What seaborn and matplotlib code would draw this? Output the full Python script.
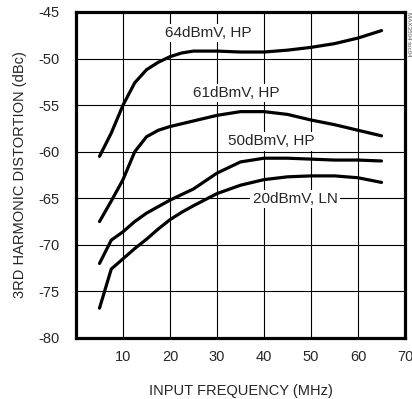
import matplotlib
matplotlib.use('Agg')
import matplotlib.pyplot as plt
import seaborn as sns
import pandas as pd

freq = [5, 7.5, 10, 12.5, 15, 17.5, 20, 22.5, 25, 30, 35, 40, 45, 50, 55, 60, 65]
hd3_64hp = [-60.5, -58.0, -55.0, -52.6, -51.2, -50.4, -49.8, -49.4, -49.2, -49.2, -49.3, -49.3, -49.1, -48.8, -48.4, -47.8, -47.0]
hd3_61hp = [-67.5, -65.3, -63.0, -60.0, -58.4, -57.7, -57.3, -57.0, -56.7, -56.1, -55.7, -55.7, -56.0, -56.6, -57.1, -57.7, -58.3]
hd3_50hp = [-72.0, -69.5, -68.6, -67.5, -66.6, -65.9, -65.2, -64.6, -64.0, -62.3, -61.1, -60.7, -60.7, -60.8, -60.9, -60.9, -61.0]
hd3_20ln = [-76.8, -72.6, -71.5, -70.4, -69.4, -68.3, -67.3, -66.5, -65.8, -64.5, -63.6, -63.0, -62.7, -62.6, -62.6, -62.8, -63.3]

series = ['64dBmV, HP', '61dBmV, HP', '50dBmV, HP', '20dBmV, LN']
label_x = [28.1, 34.2, 41.6, 46.6]
label_y = [-47.25, -53.7, -58.9, -65.1]

xticks = [10, 20, 30, 40, 50, 60, 70]
yticks = [-45, -50, -55, -60, -65, -70, -75, -80]

rows = []
for name, vals in zip(series, [hd3_64hp, hd3_61hp, hd3_50hp, hd3_20ln]):
    for f, v in zip(freq, vals):
        rows.append({'freq': f, 'hd3': v, 'curve': name})
df = pd.DataFrame(rows)

sns.set_style('white')
plt.rcParams['font.family'] = ['Liberation Sans', 'DejaVu Sans']

fig = plt.figure(figsize=(4.12, 3.99), dpi=100)
ax = fig.add_axes([0.1845, 0.153, 0.7985, 0.817])

sns.lineplot(data=df, x='freq', y='hd3', hue='curve', palette={s: 'black' for s in series},
             linewidth=2.3, legend=False, ax=ax, sort=False)

ax.set_xlim(0, 70)
ax.set_ylim(-80, -45)
ax.set_xticks(xticks)
ax.set_yticks(yticks)
ax.set_xticklabels([str(t) for t in xticks], fontsize=10.5)
ax.set_yticklabels([str(t) for t in yticks], fontsize=10.5)
ax.tick_params(axis='x', length=0, pad=9)
ax.tick_params(axis='y', length=0, pad=12)
ax.grid(True, color='black', linewidth=0.8)
for s in ax.spines.values():
    s.set_visible(True)
    s.set_color('black')
    s.set_linewidth(2.3)

ax.set_xlabel('INPUT FREQUENCY (MHz)', fontsize=10.5, labelpad=14)
ax.set_ylabel('3RD HARMONIC DISTORTION (dBc)', fontsize=10.5, labelpad=8)

for name, lx, ly in zip(series, label_x, label_y):
    ax.text(lx, ly, name, fontsize=11, ha='center', va='center',
            bbox=dict(facecolor='white', edgecolor='none', pad=1.5))

fig.text(0.997, 0.97, 'MAX3504 toc04', rotation=270, fontsize=4.5, color='#555555',
         ha='right', va='top')

fig.savefig('out.png', dpi=100)
